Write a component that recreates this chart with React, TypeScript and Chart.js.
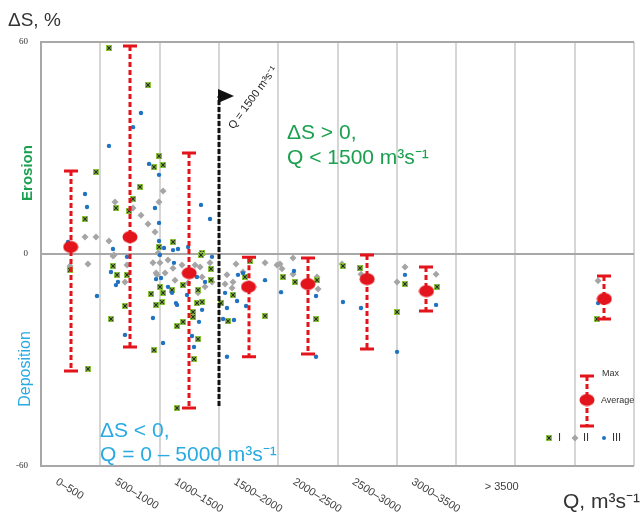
import React, { useEffect, useRef } from "react";
import { Chart, registerables } from "chart.js";
Chart.register(...registerables);

// ---- data ----
const categories = ["0–500", "500–1000", "1000–1500", "1500–2000", "2000–2500", "2500–3000", "3000–3500", "> 3500"];
const categoryQ = [250, 750, 1250, 1750, 2250, 2750, 3250, 3750];
const yTicks = [60, 0, -60];

const avgQ = [250, 750, 1250, 1750, 2250, 2750, 3250, 4750];
const avgValues = [2, 4.8, -5.4, -9.3, -8.5, -7.1, -10.5, -12.7];
const maxValues = [23.5, 58.9, 28.6, -0.9, -1.1, -0.3, -3.7, -6.2];
const minValues = [-33.1, -26.3, -43.6, -29.1, -28.3, -26.9, -16.1, -18.4];

const seriesIQ = [573, 902, 464, 995, 953, 1029, 835, 776, 632, 742, 371, 1113, 995, 1358, 245, 607, 641, 725, 928, 1029, 1105, 1197, 708, 970, 590, 1147, 1197, 1282, 1358, 1282, 1324, 953, 1290, 396, 1147, 1433, 1433, 1518, 1577, 1619, 1720, 1889, 2041, 2142, 2319, 2327, 2546, 2690, 3069, 3339, 3002, 4688, 1762, 1003, 1324, 1349, 1315, 1020];
const seriesIdS = [58.3, 47.8, 23.2, 27.7, 24.6, 25.2, 19.0, 15.6, 13.0, 12.2, 9.9, 3.4, 2.0, 0.3, -4.5, -3.4, -5.9, -5.9, -11.3, -11.0, -10.2, -8.8, -14.7, -14.4, -18.4, -20.4, -19.2, -16.4, -13.6, -17.8, -24.1, -27.2, -29.7, -32.5, -43.6, -4.2, -7.4, -13.9, -19.0, -11.6, -6.5, -17.5, -6.5, -7.9, -18.4, -7.4, -3.4, -4.0, -8.5, -9.3, -16.4, -18.4, -2.0, -9.3, -10.2, -0.3, -13.9, -13.6];

const seriesIIQ = [371, 464, 573, 624, 776, 843, 902, 961, 995, 1029, 616, 245, 396, 607, 725, 708, 944, 970, 987, 1003, 1071, 1113, 1189, 1299, 1341, 1358, 1425, 1442, 1130, 1046, 978, 1324, 1383, 1240, 1568, 1619, 1644, 1611, 1552, 1990, 2125, 1889, 2015, 2032, 2125, 2327, 2336, 2538, 1703, 2698, 3069, 3002, 3331, 4697];
const seriesIIdS = [4.8, 4.8, 3.7, 14.7, 13.0, 11.0, 8.5, 6.2, 14.7, 17.8, -0.3, -3.4, -2.8, -0.6, -3.1, -7.9, -2.5, -5.4, 0.3, -2.5, -1.7, -4.0, -3.1, -3.1, -3.7, -6.5, -2.5, -7.9, -7.4, -5.4, -5.9, -11.0, -9.3, -8.2, -5.9, -7.9, -2.8, -9.6, -8.5, -3.1, -5.7, -2.5, -2.8, -4.2, -1.1, -6.5, -9.9, -2.8, -5.1, -5.7, -3.7, -7.9, -5.7, -7.6];

const seriesIIIQ = [228, 371, 388, 573, 776, 843, 911, 961, 995, 995, 607, 725, 1349, 1425, 1037, 1113, 1155, 1240, 995, 590, 632, 649, 472, 708, 944, 970, 1029, 1138, 1231, 1332, 1273, 1290, 1568, 1627, 1653, 1568, 1889, 2024, 2319, 1535, 1003, 1121, 1012, 1071, 1105, 1147, 1315, 1383, 1358, 1442, 1661, 1552, 1703, 1729, 2133, 2319, 2546, 3069, 2698, 3002, 3331, 4697];
const seriesIIIdS = [3.4, 17.0, 13.3, 30.6, 35.9, 39.9, 25.5, 13.0, 8.8, 3.7, 1.4, -0.8, 13.9, 9.9, 1.7, 1.1, 1.4, 2.0, 22.4, -5.1, -8.8, -7.9, -11.9, -22.9, -18.1, -7.1, -25.2, -13.9, -11.6, -19.2, -23.2, -26.3, -15.3, -18.7, -13.3, -29.1, -7.4, -10.8, -29.1, -18.4, -0.3, -2.5, -6.8, -9.3, -11.0, -14.4, -6.5, -7.9, -15.8, -0.8, -5.9, -11.0, -5.4, -14.7, -4.8, -11.9, -13.6, -5.9, -15.3, -27.7, -14.4, -13.9];

const thresholdQ = 1500;
const arrowTop = 44.7;
const arrowBottom = -43;

// ---- styles ----
const RED = "#e3141b";
const GREEN_TXT = "#1aa04f";
const BLUE_TXT = "#29abe2";
const GREEN_MK = "#8dc63f";
const GREY_MK = "#a5a5a5";
const BLUE_MK = "#1f73c2";
const SANS = "'Liberation Sans', Arial, sans-serif";

function makeGreenX(): HTMLCanvasElement {
  const c = document.createElement("canvas");
  c.width = 6; c.height = 6;
  const g = c.getContext("2d")!;
  g.fillStyle = GREEN_MK;
  g.fillRect(0, 0, 6, 6);
  g.strokeStyle = "#222";
  g.lineWidth = 1.1;
  g.beginPath();
  g.moveTo(1.2, 1.2); g.lineTo(4.8, 4.8);
  g.moveTo(4.8, 1.2); g.lineTo(1.2, 4.8);
  g.stroke();
  return c;
}
function makeEllipse(): HTMLCanvasElement {
  const c = document.createElement("canvas");
  c.width = 16; c.height = 13;
  const g = c.getContext("2d")!;
  g.fillStyle = RED;
  g.beginPath();
  g.ellipse(8, 6.5, 7.5, 6, 0, 0, Math.PI * 2);
  g.fill();
  return c;
}

function zip(a: number[], b: number[]) {
  return a.map((v, i) => ({ x: v, y: b[i] }));
}

export default function App() {
  const ref = useRef<HTMLCanvasElement>(null);
  useEffect(() => {
    const greenX = makeGreenX();
    const ell = makeEllipse();
    const overlay = {
      id: "overlay",
      beforeDatasetDraw(chart: any, args: any) {
        if (args.index !== 0) return;
        const { ctx, scales } = chart;
        const x = scales.x, y = scales.y;
        ctx.save();
        ctx.strokeStyle = RED;
        ctx.lineWidth = 3;
        avgQ.forEach((q, i) => {
          const px = Math.round(x.getPixelForValue(q));
          const top = y.getPixelForValue(maxValues[i]);
          const bot = y.getPixelForValue(minValues[i]);
          ctx.setLineDash([5, 3]);
          ctx.beginPath(); ctx.moveTo(px, top); ctx.lineTo(px, bot); ctx.stroke();
          ctx.setLineDash([]);
          ctx.beginPath();
          ctx.moveTo(px - 7, top); ctx.lineTo(px + 7, top);
          ctx.moveTo(px - 7, bot); ctx.lineTo(px + 7, bot);
          ctx.stroke();
        });
        ctx.restore();
      },
      afterDatasetsDraw(chart: any) {
        const { ctx, scales } = chart;
        const x = scales.x, y = scales.y;
        ctx.save();
        // threshold arrow
        const ax = Math.round(x.getPixelForValue(thresholdQ));
        const at = y.getPixelForValue(arrowTop);
        const ab = y.getPixelForValue(arrowBottom);
        ctx.strokeStyle = "#111";
        ctx.lineWidth = 3;
        ctx.setLineDash([5, 2]);
        ctx.beginPath(); ctx.moveTo(ax, ab); ctx.lineTo(ax, at); ctx.stroke();
        ctx.setLineDash([]);
        ctx.fillStyle = "#111";
        ctx.beginPath();
        ctx.moveTo(ax - 1, at - 7); ctx.lineTo(ax + 15, at); ctx.lineTo(ax - 1, at + 7); ctx.closePath();
        ctx.fill();
        // rotated label
        ctx.save();
        ctx.translate(ax + 12, at + 32);
        ctx.rotate(-54 * Math.PI / 180);
        ctx.font = `11px ${SANS}`;
        ctx.fillStyle = "#222";
        ctx.textAlign = "left";
        ctx.textBaseline = "middle";
        ctx.fillText("Q = 1500 m³s⁻¹", 0, 0);
        ctx.restore();

        // y tick labels
        ctx.font = `9px 'Liberation Serif', serif`;
        ctx.fillStyle = "#333";
        ctx.textAlign = "right";
        ctx.textBaseline = "middle";
        yTicks.forEach((t) => ctx.fillText(String(t), 28, y.getPixelForValue(t)));

        // x category labels
        ctx.font = `11px ${SANS}`;
        ctx.fillStyle = "#404040";
        categories.forEach((c, i) => {
          const px = x.getPixelForValue(categoryQ[i]);
          if (c.startsWith(">")) {
            ctx.textAlign = "left";
            ctx.textBaseline = "middle";
            ctx.fillText(c, px - 1, 487);
          } else {
            ctx.save();
            ctx.translate(px - 14, 481);
            ctx.rotate(32 * Math.PI / 180);
            ctx.textAlign = "left";
            ctx.textBaseline = "middle";
            ctx.fillText(c, 0, 0);
            ctx.restore();
          }
        });

        // axis titles
        ctx.fillStyle = "#333";
        ctx.textAlign = "left";
        ctx.textBaseline = "alphabetic";
        ctx.font = `19px ${SANS}`;
        ctx.fillText("ΔS, %", 8, 26);
        ctx.font = `21px ${SANS}`;
        ctx.fillText("Q, m³s⁻¹", 563, 508);

        // side labels
        ctx.save();
        ctx.translate(28, 173);
        ctx.rotate(-Math.PI / 2);
        ctx.textAlign = "center";
        ctx.textBaseline = "middle";
        ctx.font = `bold 15px ${SANS}`;
        ctx.fillStyle = GREEN_TXT;
        ctx.fillText("Erosion", 0, 0);
        ctx.restore();
        ctx.save();
        ctx.translate(26, 369);
        ctx.rotate(-Math.PI / 2);
        ctx.textAlign = "center";
        ctx.textBaseline = "middle";
        ctx.font = `16px ${SANS}`;
        ctx.fillStyle = BLUE_TXT;
        ctx.fillText("Deposition", 0, 0);
        ctx.restore();

        // region texts
        ctx.textAlign = "left";
        ctx.textBaseline = "alphabetic";
        ctx.font = `21px ${SANS}`;
        ctx.fillStyle = GREEN_TXT;
        ctx.fillText("ΔS > 0,", 287, 139);
        ctx.fillText("Q < 1500 m³s⁻¹", 287, 164);
        ctx.fillStyle = BLUE_TXT;
        ctx.fillText("ΔS < 0,", 100, 437);
        ctx.fillText("Q = 0 – 5000 m³s⁻¹", 100, 461);

        // legend
        const lx = 587;
        ctx.strokeStyle = RED;
        ctx.lineWidth = 3;
        ctx.setLineDash([5, 3]);
        ctx.beginPath(); ctx.moveTo(lx, 376); ctx.lineTo(lx, 426); ctx.stroke();
        ctx.setLineDash([]);
        ctx.beginPath();
        ctx.moveTo(lx - 7, 376); ctx.lineTo(lx + 7, 376);
        ctx.moveTo(lx - 7, 426); ctx.lineTo(lx + 7, 426);
        ctx.stroke();
        ctx.drawImage(ell, lx - 8, 400 - 6.5);
        ctx.font = `9px ${SANS}`;
        ctx.fillStyle = "#333";
        ctx.textBaseline = "middle";
        ctx.fillText("Max", 602, 374);
        ctx.fillText("Average", 601, 401);
        ctx.drawImage(greenX, 549 - 3, 438 - 3);
        ctx.fillStyle = GREY_MK;
        ctx.beginPath();
        ctx.moveTo(575, 434.5); ctx.lineTo(578.5, 438); ctx.lineTo(575, 441.5); ctx.lineTo(571.5, 438); ctx.closePath();
        ctx.fill();
        ctx.fillStyle = BLUE_MK;
        ctx.beginPath(); ctx.arc(604, 438, 2, 0, Math.PI * 2); ctx.fill();
        ctx.font = `11px ${SANS}`;
        ctx.fillStyle = "#333";
        ctx.fillText("I", 558, 438);
        ctx.fillText("II", 583, 438);
        ctx.fillText("III", 612, 438);
        ctx.restore();
      },
    };

    const chart = new Chart(ref.current!, {
      type: "scatter",
      data: {
        datasets: [
          {
            label: "Average",
            data: zip(avgQ, avgValues),
            pointStyle: ell as any,
            pointRadius: 7,
          },
          {
            label: "III",
            data: zip(seriesIIIQ, seriesIIIdS),
            pointStyle: "circle",
            pointRadius: 2.2,
            backgroundColor: BLUE_MK,
            borderColor: BLUE_MK,
            borderWidth: 0,
          },
          {
            label: "I",
            data: zip(seriesIQ, seriesIdS),
            pointStyle: greenX as any,
            pointRadius: 3,
          },
          {
            label: "II",
            data: zip(seriesIIQ, seriesIIdS),
            pointStyle: "rectRot",
            pointRadius: 3.5,
            backgroundColor: GREY_MK,
            borderColor: GREY_MK,
            borderWidth: 0,
          },
        ],
      },
      options: {
        animation: false,
        responsive: false,
        devicePixelRatio: 1,
        layout: { padding: { left: 41, right: 8, top: 42, bottom: 61 } },
        plugins: { legend: { display: false }, tooltip: { enabled: false } },
        scales: {
          x: {
            type: "linear",
            min: 0,
            max: 5000,
            ticks: { display: false, stepSize: 500 },
            grid: { color: "#d6d6d6", lineWidth: 2, drawTicks: false },
            border: { display: false },
            afterFit: (s: any) => { s.height = 0; },
          },
          y: {
            min: -60,
            max: 60,
            ticks: { display: false, stepSize: 60 },
            grid: { color: "#a8a8a8", lineWidth: 2, drawTicks: false },
            border: { display: true, color: "#a8a8a8", width: 2 },
            afterFit: (s: any) => { s.width = 0; },
          },
        },
      },
      plugins: [overlay],
    });
    return () => chart.destroy();
  }, []);

  return (
    <div style={{ position: "absolute", left: 0, top: 0, width: 642, height: 527, background: "#fff" }}>
      <canvas ref={ref} width={642} height={527} />
    </div>
  );
}
